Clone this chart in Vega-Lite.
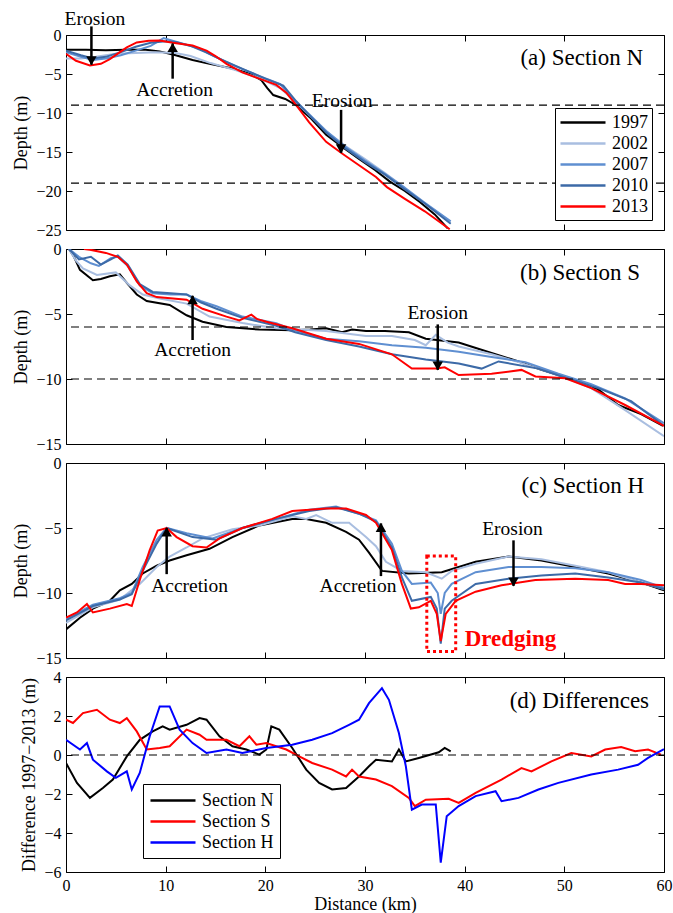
{
  "$schema": "https://vega.github.io/schema/vega-lite/v6.json",
  "padding": {"top": 8, "left": 12, "right": 5, "bottom": 0},
  "background": "white",
  "config": {
    "font": "Liberation Serif",
    "view": {"stroke": "black", "strokeWidth": 1},
    "axis": {"domain": false, "grid": false, "ticks": true, "tickColor": "black", "tickWidth": 1, "tickSize": -6, "labelFont": "Liberation Serif", "labelFontSize": 16, "labelColor": "black", "labelFlush": false, "labelOverlap": false, "labelPadding": 11, "titleFont": "Liberation Serif", "titleFontSize": 18, "titleFontWeight": "normal", "titleColor": "black", "titlePadding": 5}
  },
  "spacing": 1,
  "resolve": {"scale": {"color": "independent", "x": "independent", "y": "independent", "shape": "independent"}, "legend": {"color": "independent"}},
  "datasets": {
    "a": [
      {"year":"1997","x":0,"y":-1.9},{"year":"1997","x":2,"y":-1.9},{"year":"1997","x":4,"y":-1.95},{"year":"1997","x":6,"y":-1.9},{"year":"1997","x":8,"y":-1.9},{"year":"1997","x":9.4,"y":-2.1},{"year":"1997","x":11,"y":-2.6},{"year":"1997","x":12.7,"y":-3.2},{"year":"1997","x":14.4,"y":-3.7},{"year":"1997","x":16.7,"y":-4.3},{"year":"1997","x":18.5,"y":-5.0},{"year":"1997","x":19.6,"y":-5.8},{"year":"1997","x":20.2,"y":-6.8},{"year":"1997","x":20.8,"y":-7.7},{"year":"1997","x":22,"y":-8.2},{"year":"1997","x":23.1,"y":-9.0},{"year":"1997","x":24.5,"y":-10.6},{"year":"1997","x":26.1,"y":-12.8},{"year":"1997","x":28,"y":-14.6},{"year":"1997","x":29.4,"y":-15.9},{"year":"1997","x":31,"y":-17.3},{"year":"1997","x":32.5,"y":-18.8},{"year":"1997","x":34,"y":-20.0},{"year":"1997","x":35.5,"y":-21.4},{"year":"1997","x":37,"y":-23.0},{"year":"1997","x":38.3,"y":-24.8},
      {"year":"2002","x":0,"y":-3.0},{"year":"2002","x":1.5,"y":-3.0},{"year":"2002","x":3,"y":-2.8},{"year":"2002","x":5,"y":-2.4},{"year":"2002","x":7,"y":-2.3},{"year":"2002","x":9,"y":-2.2},{"year":"2002","x":11,"y":-2.3},{"year":"2002","x":12.5,"y":-2.7},{"year":"2002","x":14.5,"y":-3.6},{"year":"2002","x":17,"y":-4.5},{"year":"2002","x":19.5,"y":-5.6},{"year":"2002","x":21.5,"y":-6.8},{"year":"2002","x":23.1,"y":-8.7},{"year":"2002","x":24.5,"y":-10.4},{"year":"2002","x":26.1,"y":-12.3},{"year":"2002","x":28,"y":-14.2},{"year":"2002","x":30,"y":-15.9},{"year":"2002","x":32,"y":-17.7},{"year":"2002","x":34,"y":-19.6},
      {"year":"2007","x":0,"y":-2.2},{"year":"2007","x":1.5,"y":-2.8},{"year":"2007","x":2.7,"y":-3.2},{"year":"2007","x":4,"y":-3.0},{"year":"2007","x":5.5,"y":-2.6},{"year":"2007","x":7,"y":-2.0},{"year":"2007","x":8.5,"y":-1.4},{"year":"2007","x":9.8,"y":-0.4},{"year":"2007","x":10.6,"y":-0.7},{"year":"2007","x":12,"y":-1.2},{"year":"2007","x":13.5,"y":-1.8},{"year":"2007","x":15,"y":-2.8},{"year":"2007","x":17,"y":-4.0},{"year":"2007","x":19.5,"y":-5.3},{"year":"2007","x":21.5,"y":-6.3},{"year":"2007","x":23.1,"y":-8.6},{"year":"2007","x":24.5,"y":-10.3},{"year":"2007","x":26.1,"y":-12.3},{"year":"2007","x":28,"y":-14.3},{"year":"2007","x":30,"y":-16.1},{"year":"2007","x":32,"y":-17.8},{"year":"2007","x":34,"y":-19.6},{"year":"2007","x":36,"y":-21.5},{"year":"2007","x":38.6,"y":-23.9},
      {"year":"2010","x":0,"y":-2.0},{"year":"2010","x":1.5,"y":-2.6},{"year":"2010","x":2.7,"y":-3.0},{"year":"2010","x":4,"y":-2.8},{"year":"2010","x":5.5,"y":-2.2},{"year":"2010","x":7,"y":-1.5},{"year":"2010","x":8.5,"y":-1.0},{"year":"2010","x":10,"y":-0.8},{"year":"2010","x":11,"y":-0.9},{"year":"2010","x":12.5,"y":-1.4},{"year":"2010","x":14,"y":-2.2},{"year":"2010","x":16,"y":-3.4},{"year":"2010","x":18,"y":-4.5},{"year":"2010","x":20,"y":-5.6},{"year":"2010","x":21.8,"y":-6.5},{"year":"2010","x":23.1,"y":-8.5},{"year":"2010","x":24.5,"y":-10.4},{"year":"2010","x":26.1,"y":-12.5},{"year":"2010","x":28,"y":-14.5},{"year":"2010","x":30,"y":-16.3},{"year":"2010","x":32,"y":-17.9},{"year":"2010","x":34,"y":-19.8},{"year":"2010","x":36,"y":-21.6},{"year":"2010","x":38.6,"y":-24.2},
      {"year":"2013","x":0,"y":-2.4},{"year":"2013","x":1,"y":-3.3},{"year":"2013","x":2.4,"y":-3.9},{"year":"2013","x":3.5,"y":-3.7},{"year":"2013","x":4.4,"y":-3.1},{"year":"2013","x":5.3,"y":-2.3},{"year":"2013","x":6.1,"y":-1.6},{"year":"2013","x":7.1,"y":-0.95},{"year":"2013","x":8.3,"y":-0.75},{"year":"2013","x":9.4,"y":-0.7},{"year":"2013","x":10.7,"y":-1.0},{"year":"2013","x":12.7,"y":-1.35},{"year":"2013","x":14.1,"y":-2.0},{"year":"2013","x":15,"y":-2.7},{"year":"2013","x":16.1,"y":-3.7},{"year":"2013","x":17.7,"y":-4.8},{"year":"2013","x":19.4,"y":-5.6},{"year":"2013","x":21.1,"y":-6.4},{"year":"2013","x":22.1,"y":-7.4},{"year":"2013","x":23.1,"y":-9.0},{"year":"2013","x":24.4,"y":-11.2},{"year":"2013","x":26.1,"y":-13.7},{"year":"2013","x":27.7,"y":-15.2},{"year":"2013","x":29.4,"y":-16.7},{"year":"2013","x":31.1,"y":-18.2},{"year":"2013","x":32.2,"y":-19.5},{"year":"2013","x":34,"y":-21.0},{"year":"2013","x":36,"y":-22.6},{"year":"2013","x":38.5,"y":-24.9}
    ],
    "b": [
      {"year":"1997","x":0.3,"y":0},{"year":"1997","x":0.8,"y":-0.6},{"year":"1997","x":1.4,"y":-1.6},{"year":"1997","x":2.7,"y":-2.4},{"year":"1997","x":3.5,"y":-2.3},{"year":"1997","x":4.4,"y":-2.1},{"year":"1997","x":5.4,"y":-1.95},{"year":"1997","x":6.1,"y":-2.6},{"year":"1997","x":7.1,"y":-3.5},{"year":"1997","x":8.1,"y":-4.0},{"year":"1997","x":10.4,"y":-4.3},{"year":"1997","x":12.1,"y":-5.1},{"year":"1997","x":13.7,"y":-5.6},{"year":"1997","x":16.1,"y":-6.0},{"year":"1997","x":19.4,"y":-6.2},{"year":"1997","x":22.7,"y":-6.25},{"year":"1997","x":24.5,"y":-6.2},{"year":"1997","x":26.1,"y":-6.1},{"year":"1997","x":27.7,"y":-6.4},{"year":"1997","x":28.7,"y":-6.2},{"year":"1997","x":30.1,"y":-6.3},{"year":"1997","x":32,"y":-6.3},{"year":"1997","x":34.4,"y":-6.4},{"year":"1997","x":36.1,"y":-6.9},{"year":"1997","x":39.4,"y":-7.2},{"year":"1997","x":42.7,"y":-8.0},{"year":"1997","x":45.4,"y":-8.65},{"year":"1997","x":47.7,"y":-9.3},{"year":"1997","x":50.7,"y":-10.0},{"year":"1997","x":53.4,"y":-10.8},{"year":"1997","x":55.4,"y":-12.0},{"year":"1997","x":57.7,"y":-12.7},{"year":"1997","x":59.9,"y":-13.6},
      {"year":"2002","x":0.3,"y":0},{"year":"2002","x":1,"y":-0.9},{"year":"2002","x":1.7,"y":-1.5},{"year":"2002","x":3.1,"y":-2.0},{"year":"2002","x":5.0,"y":-1.8},{"year":"2002","x":6.4,"y":-2.8},{"year":"2002","x":7.7,"y":-3.5},{"year":"2002","x":9.4,"y":-3.8},{"year":"2002","x":12.1,"y":-4.2},{"year":"2002","x":14.4,"y":-5.2},{"year":"2002","x":17.7,"y":-5.7},{"year":"2002","x":21.1,"y":-6.1},{"year":"2002","x":26.1,"y":-6.3},{"year":"2002","x":30.1,"y":-6.7},{"year":"2002","x":32.7,"y":-6.7},{"year":"2002","x":35,"y":-7.0},{"year":"2002","x":36.1,"y":-7.4},{"year":"2002","x":37.1,"y":-6.6},{"year":"2002","x":38.3,"y":-7.2},{"year":"2002","x":39.4,"y":-7.5},{"year":"2002","x":42.7,"y":-8.1},{"year":"2002","x":45.4,"y":-8.7},{"year":"2002","x":49.4,"y":-9.7},{"year":"2002","x":52.7,"y":-10.7},{"year":"2002","x":56.1,"y":-12.4},{"year":"2002","x":60,"y":-14.4},
      {"year":"2007","x":0.3,"y":0},{"year":"2007","x":1.3,"y":-0.6},{"year":"2007","x":2.5,"y":-1.1},{"year":"2007","x":3.3,"y":-1.3},{"year":"2007","x":4.5,"y":-0.7},{"year":"2007","x":5.2,"y":-0.6},{"year":"2007","x":6.2,"y":-1.3},{"year":"2007","x":7.4,"y":-2.8},{"year":"2007","x":8.7,"y":-3.4},{"year":"2007","x":10.5,"y":-3.5},{"year":"2007","x":12.1,"y":-3.5},{"year":"2007","x":13.5,"y":-4.0},{"year":"2007","x":15.1,"y":-4.4},{"year":"2007","x":17.7,"y":-5.2},{"year":"2007","x":21.1,"y":-5.7},{"year":"2007","x":22.7,"y":-6.2},{"year":"2007","x":26.1,"y":-6.9},{"year":"2007","x":29.4,"y":-7.1},{"year":"2007","x":32.7,"y":-7.4},{"year":"2007","x":36.1,"y":-7.6},{"year":"2007","x":39.4,"y":-7.9},{"year":"2007","x":42.7,"y":-8.3},{"year":"2007","x":46.1,"y":-8.7},{"year":"2007","x":49.4,"y":-9.6},{"year":"2007","x":52.7,"y":-10.4},{"year":"2007","x":56.1,"y":-11.5},{"year":"2007","x":60,"y":-13.4},
      {"year":"2010","x":0.3,"y":0},{"year":"2010","x":1.3,"y":-0.8},{"year":"2010","x":2.5,"y":-0.6},{"year":"2010","x":3.5,"y":-1.2},{"year":"2010","x":4.5,"y":-0.8},{"year":"2010","x":5.2,"y":-0.5},{"year":"2010","x":6.2,"y":-1.2},{"year":"2010","x":7.4,"y":-2.7},{"year":"2010","x":8.7,"y":-3.3},{"year":"2010","x":10.5,"y":-3.4},{"year":"2010","x":12.1,"y":-3.5},{"year":"2010","x":13.5,"y":-4.1},{"year":"2010","x":15.1,"y":-4.6},{"year":"2010","x":17.7,"y":-5.3},{"year":"2010","x":21.1,"y":-5.9},{"year":"2010","x":23,"y":-6.4},{"year":"2010","x":26.1,"y":-7.0},{"year":"2010","x":29.4,"y":-7.5},{"year":"2010","x":32.7,"y":-8.1},{"year":"2010","x":36.1,"y":-8.5},{"year":"2010","x":39.4,"y":-8.8},{"year":"2010","x":41.7,"y":-9.2},{"year":"2010","x":43.4,"y":-8.65},{"year":"2010","x":47.4,"y":-9.2},{"year":"2010","x":50.1,"y":-9.9},{"year":"2010","x":53.4,"y":-10.7},{"year":"2010","x":56.7,"y":-11.7},{"year":"2010","x":60,"y":-13.6},
      {"year":"2013","x":1.8,"y":0},{"year":"2013","x":2.4,"y":-0.05},{"year":"2013","x":4,"y":-0.3},{"year":"2013","x":5.2,"y":-0.6},{"year":"2013","x":6.1,"y":-1.2},{"year":"2013","x":7.1,"y":-2.5},{"year":"2013","x":8.1,"y":-3.4},{"year":"2013","x":9.1,"y":-3.7},{"year":"2013","x":12.1,"y":-3.9},{"year":"2013","x":13.7,"y":-4.6},{"year":"2013","x":16.1,"y":-5.2},{"year":"2013","x":17.4,"y":-5.5},{"year":"2013","x":18.6,"y":-5.05},{"year":"2013","x":19.2,"y":-5.4},{"year":"2013","x":20.1,"y":-5.6},{"year":"2013","x":22.7,"y":-6.1},{"year":"2013","x":26.1,"y":-6.9},{"year":"2013","x":29.4,"y":-7.3},{"year":"2013","x":32.7,"y":-8.1},{"year":"2013","x":34.7,"y":-9.2},{"year":"2013","x":37.2,"y":-9.2},{"year":"2013","x":38,"y":-9.1},{"year":"2013","x":39.4,"y":-9.7},{"year":"2013","x":42.7,"y":-9.6},{"year":"2013","x":45.7,"y":-9.3},{"year":"2013","x":47.1,"y":-9.8},{"year":"2013","x":50.1,"y":-9.95},{"year":"2013","x":52.7,"y":-10.7},{"year":"2013","x":56.1,"y":-12.0},{"year":"2013","x":60,"y":-13.6}
    ],
    "c": [
      {"year":"1997","x":0,"y":-12.8},{"year":"1997","x":1.4,"y":-11.9},{"year":"1997","x":2.7,"y":-11.2},{"year":"1997","x":4.4,"y":-10.6},{"year":"1997","x":5.4,"y":-9.8},{"year":"1997","x":6.6,"y":-9.3},{"year":"1997","x":7.7,"y":-8.5},{"year":"1997","x":9.1,"y":-7.9},{"year":"1997","x":10.4,"y":-7.5},{"year":"1997","x":12.1,"y":-7.1},{"year":"1997","x":14.4,"y":-6.6},{"year":"1997","x":16.7,"y":-5.7},{"year":"1997","x":19.4,"y":-4.8},{"year":"1997","x":22.7,"y":-4.3},{"year":"1997","x":24.1,"y":-4.3},{"year":"1997","x":26.1,"y":-4.6},{"year":"1997","x":28.1,"y":-5.3},{"year":"1997","x":29.4,"y":-5.9},{"year":"1997","x":30.4,"y":-6.9},{"year":"1997","x":31.7,"y":-8.3},{"year":"1997","x":34.4,"y":-8.5},{"year":"1997","x":37.7,"y":-8.4},{"year":"1997","x":41.1,"y":-7.6},{"year":"1997","x":44.4,"y":-7.2},{"year":"1997","x":47.7,"y":-7.5},{"year":"1997","x":51.1,"y":-8.0},{"year":"1997","x":54.4,"y":-8.5},{"year":"1997","x":57.7,"y":-9.2},{"year":"1997","x":60,"y":-9.8},
      {"year":"2002","x":0,"y":-12.3},{"year":"2002","x":2.7,"y":-11.1},{"year":"2002","x":5.4,"y":-10.5},{"year":"2002","x":7.4,"y":-9.3},{"year":"2002","x":9.1,"y":-8.0},{"year":"2002","x":10.4,"y":-7.2},{"year":"2002","x":12.1,"y":-6.5},{"year":"2002","x":13.7,"y":-5.8},{"year":"2002","x":16.7,"y":-5.1},{"year":"2002","x":19.4,"y":-4.8},{"year":"2002","x":22.7,"y":-4.1},{"year":"2002","x":24.1,"y":-4.3},{"year":"2002","x":25.1,"y":-4.0},{"year":"2002","x":26.7,"y":-4.6},{"year":"2002","x":28.4,"y":-4.6},{"year":"2002","x":30.1,"y":-5.7},{"year":"2002","x":31.1,"y":-6.4},{"year":"2002","x":32.1,"y":-7.6},{"year":"2002","x":33.7,"y":-8.3},{"year":"2002","x":36.1,"y":-8.4},{"year":"2002","x":37.7,"y":-8.9},{"year":"2002","x":38.7,"y":-8.3},{"year":"2002","x":41.1,"y":-7.75},{"year":"2002","x":44.4,"y":-7.2},{"year":"2002","x":47.7,"y":-7.4},{"year":"2002","x":51.1,"y":-7.9},{"year":"2002","x":54.4,"y":-8.4},{"year":"2002","x":57.7,"y":-9.2},{"year":"2002","x":60,"y":-9.7},
      {"year":"2007","x":0,"y":-12.0},{"year":"2007","x":2.7,"y":-10.9},{"year":"2007","x":5.4,"y":-10.4},{"year":"2007","x":6.6,"y":-10.0},{"year":"2007","x":7.7,"y":-8.0},{"year":"2007","x":9.1,"y":-5.9},{"year":"2007","x":10.1,"y":-5.0},{"year":"2007","x":12.1,"y":-5.4},{"year":"2007","x":14.7,"y":-5.8},{"year":"2007","x":17.7,"y":-5.0},{"year":"2007","x":21.1,"y":-4.3},{"year":"2007","x":24.4,"y":-3.6},{"year":"2007","x":27.1,"y":-3.35},{"year":"2007","x":29.4,"y":-3.9},{"year":"2007","x":31.1,"y":-4.4},{"year":"2007","x":32.7,"y":-6.2},{"year":"2007","x":33.7,"y":-8.3},{"year":"2007","x":34.7,"y":-9.3},{"year":"2007","x":36.6,"y":-9.2},{"year":"2007","x":37.3,"y":-10.0},{"year":"2007","x":37.6,"y":-11.6},{"year":"2007","x":38.0,"y":-10.0},{"year":"2007","x":38.7,"y":-9.3},{"year":"2007","x":41.1,"y":-8.4},{"year":"2007","x":44.4,"y":-8.0},{"year":"2007","x":47.7,"y":-8.0},{"year":"2007","x":51.1,"y":-8.1},{"year":"2007","x":54.4,"y":-8.4},{"year":"2007","x":57.7,"y":-9.0},{"year":"2007","x":60,"y":-9.6},
      {"year":"2010","x":0,"y":-12.1},{"year":"2010","x":2.7,"y":-11.0},{"year":"2010","x":5.4,"y":-10.5},{"year":"2010","x":6.6,"y":-10.1},{"year":"2010","x":7.7,"y":-8.3},{"year":"2010","x":9.1,"y":-6.2},{"year":"2010","x":10.1,"y":-5.0},{"year":"2010","x":12.7,"y":-5.7},{"year":"2010","x":15.1,"y":-5.9},{"year":"2010","x":17.7,"y":-5.0},{"year":"2010","x":21.1,"y":-4.3},{"year":"2010","x":24.4,"y":-3.7},{"year":"2010","x":27.1,"y":-3.4},{"year":"2010","x":29.4,"y":-3.9},{"year":"2010","x":31.1,"y":-4.5},{"year":"2010","x":32.7,"y":-6.5},{"year":"2010","x":33.7,"y":-8.8},{"year":"2010","x":34.7,"y":-10.6},{"year":"2010","x":36.6,"y":-10.3},{"year":"2010","x":37.2,"y":-11.2},{"year":"2010","x":37.6,"y":-13.9},{"year":"2010","x":38.0,"y":-11.2},{"year":"2010","x":38.7,"y":-10.6},{"year":"2010","x":41.1,"y":-9.3},{"year":"2010","x":44.4,"y":-8.9},{"year":"2010","x":47.7,"y":-8.65},{"year":"2010","x":51.1,"y":-8.5},{"year":"2010","x":54.4,"y":-8.8},{"year":"2010","x":57.7,"y":-9.2},{"year":"2010","x":60,"y":-9.7},
      {"year":"2013","x":0,"y":-11.9},{"year":"2013","x":1.1,"y":-11.5},{"year":"2013","x":2.1,"y":-10.85},{"year":"2013","x":2.7,"y":-11.5},{"year":"2013","x":4.4,"y":-11.2},{"year":"2013","x":6.1,"y":-10.85},{"year":"2013","x":6.6,"y":-11.0},{"year":"2013","x":7.4,"y":-9.0},{"year":"2013","x":8.4,"y":-6.7},{"year":"2013","x":9.2,"y":-5.2},{"year":"2013","x":10.1,"y":-5.0},{"year":"2013","x":11.1,"y":-5.7},{"year":"2013","x":12.7,"y":-6.4},{"year":"2013","x":14.1,"y":-6.5},{"year":"2013","x":15.4,"y":-5.8},{"year":"2013","x":17.7,"y":-5.0},{"year":"2013","x":20.7,"y":-4.3},{"year":"2013","x":22.7,"y":-3.7},{"year":"2013","x":26.1,"y":-3.5},{"year":"2013","x":28.1,"y":-3.5},{"year":"2013","x":30.1,"y":-4.0},{"year":"2013","x":31.1,"y":-4.6},{"year":"2013","x":32.7,"y":-6.7},{"year":"2013","x":33.7,"y":-9.3},{"year":"2013","x":34.6,"y":-11.2},{"year":"2013","x":35.4,"y":-11.1},{"year":"2013","x":36.6,"y":-10.6},{"year":"2013","x":37.2,"y":-11.6},{"year":"2013","x":37.6,"y":-13.7},{"year":"2013","x":38.1,"y":-11.6},{"year":"2013","x":39.1,"y":-10.6},{"year":"2013","x":41.1,"y":-9.9},{"year":"2013","x":43.7,"y":-9.4},{"year":"2013","x":47.1,"y":-9.0},{"year":"2013","x":51.1,"y":-8.9},{"year":"2013","x":54.4,"y":-9.0},{"year":"2013","x":56.1,"y":-9.3},{"year":"2013","x":57.7,"y":-9.3},{"year":"2013","x":60,"y":-9.4}
    ],
    "d": [
      {"section":"Section N","x":0,"y":-0.41},{"section":"Section N","x":1.1,"y":-1.43},{"section":"Section N","x":2.4,"y":-2.2},{"section":"Section N","x":3.7,"y":-1.69},{"section":"Section N","x":4.7,"y":-1.26},{"section":"Section N","x":6.1,"y":-0.07},{"section":"Section N","x":7.4,"y":0.78},{"section":"Section N","x":8.7,"y":1.21},{"section":"Section N","x":9.7,"y":1.47},{"section":"Section N","x":10.4,"y":1.3},{"section":"Section N","x":12.1,"y":1.55},{"section":"Section N","x":13.4,"y":1.89},{"section":"Section N","x":14.1,"y":1.81},{"section":"Section N","x":15.4,"y":0.96},{"section":"Section N","x":16.7,"y":0.45},{"section":"Section N","x":18.1,"y":0.28},{"section":"Section N","x":19.4,"y":0.02},{"section":"Section N","x":20.1,"y":0.28},{"section":"Section N","x":20.6,"y":1.47},{"section":"Section N","x":21.4,"y":1.3},{"section":"Section N","x":22.7,"y":0.36},{"section":"Section N","x":24.1,"y":-0.75},{"section":"Section N","x":25.4,"y":-1.43},{"section":"Section N","x":26.7,"y":-1.77},{"section":"Section N","x":28.1,"y":-1.69},{"section":"Section N","x":29.4,"y":-1.1},{"section":"Section N","x":30.4,"y":-0.58},{"section":"Section N","x":31.1,"y":-0.24},{"section":"Section N","x":32.7,"y":-0.33},{"section":"Section N","x":33.4,"y":0.28},{"section":"Section N","x":34.1,"y":-0.33},{"section":"Section N","x":35.4,"y":-0.15},{"section":"Section N","x":37.4,"y":0.14},{"section":"Section N","x":38,"y":0.36},{"section":"Section N","x":38.6,"y":0.19},
      {"section":"Section S","x":0,"y":1.81},{"section":"Section S","x":0.7,"y":1.64},{"section":"Section S","x":1.7,"y":2.15},{"section":"Section S","x":3.1,"y":2.32},{"section":"Section S","x":4.4,"y":1.81},{"section":"Section S","x":5.4,"y":1.64},{"section":"Section S","x":6.1,"y":1.89},{"section":"Section S","x":7.1,"y":1.21},{"section":"Section S","x":8.1,"y":0.28},{"section":"Section S","x":9.4,"y":0.36},{"section":"Section S","x":10.4,"y":0.45},{"section":"Section S","x":12.1,"y":1.3},{"section":"Section S","x":13.4,"y":1.04},{"section":"Section S","x":14.1,"y":0.78},{"section":"Section S","x":16.1,"y":0.78},{"section":"Section S","x":17.4,"y":0.45},{"section":"Section S","x":18.4,"y":0.96},{"section":"Section S","x":19.1,"y":0.53},{"section":"Section S","x":20.1,"y":0.61},{"section":"Section S","x":22.1,"y":0.28},{"section":"Section S","x":23.4,"y":-0.07},{"section":"Section S","x":24.7,"y":-0.41},{"section":"Section S","x":26.7,"y":-0.75},{"section":"Section S","x":28.1,"y":-1.1},{"section":"Section S","x":28.7,"y":-0.75},{"section":"Section S","x":29.4,"y":-1.1},{"section":"Section S","x":31.1,"y":-1.26},{"section":"Section S","x":32.7,"y":-1.6},{"section":"Section S","x":34.4,"y":-2.2},{"section":"Section S","x":35.0,"y":-2.62},{"section":"Section S","x":36.1,"y":-2.29},{"section":"Section S","x":38.4,"y":-2.25},{"section":"Section S","x":39.4,"y":-2.46},{"section":"Section S","x":41.1,"y":-1.94},{"section":"Section S","x":43.7,"y":-1.26},{"section":"Section S","x":45.7,"y":-0.67},{"section":"Section S","x":46.7,"y":-0.84},{"section":"Section S","x":48.7,"y":-0.33},{"section":"Section S","x":50.7,"y":0.1},{"section":"Section S","x":52.7,"y":-0.07},{"section":"Section S","x":54.1,"y":0.28},{"section":"Section S","x":55.7,"y":0.41},{"section":"Section S","x":57.1,"y":0.19},{"section":"Section S","x":58.4,"y":0.28},{"section":"Section S","x":59.7,"y":0.02},
      {"section":"Section H","x":0,"y":0.78},{"section":"Section H","x":1.4,"y":0.28},{"section":"Section H","x":2.1,"y":0.61},{"section":"Section H","x":2.7,"y":-0.24},{"section":"Section H","x":4.1,"y":-0.84},{"section":"Section H","x":5.0,"y":-1.17},{"section":"Section H","x":6.1,"y":-0.84},{"section":"Section H","x":6.6,"y":-1.77},{"section":"Section H","x":7.4,"y":-0.92},{"section":"Section H","x":8.4,"y":0.96},{"section":"Section H","x":9.4,"y":2.49},{"section":"Section H","x":10.4,"y":2.49},{"section":"Section H","x":11.4,"y":1.3},{"section":"Section H","x":12.7,"y":0.61},{"section":"Section H","x":14.1,"y":0.1},{"section":"Section H","x":16.1,"y":0.28},{"section":"Section H","x":17.7,"y":0.1},{"section":"Section H","x":20.1,"y":0.36},{"section":"Section H","x":22.7,"y":0.53},{"section":"Section H","x":24.7,"y":0.78},{"section":"Section H","x":26.7,"y":1.12},{"section":"Section H","x":28.4,"y":1.55},{"section":"Section H","x":29.4,"y":1.81},{"section":"Section H","x":30.4,"y":2.66},{"section":"Section H","x":31.7,"y":3.43},{"section":"Section H","x":32.4,"y":2.83},{"section":"Section H","x":33.4,"y":1.13},{"section":"Section H","x":34.1,"y":-0.58},{"section":"Section H","x":34.7,"y":-2.8},{"section":"Section H","x":35.7,"y":-2.54},{"section":"Section H","x":37.1,"y":-2.54},{"section":"Section H","x":37.6,"y":-5.52},{"section":"Section H","x":38.2,"y":-3.14},{"section":"Section H","x":39.4,"y":-2.62},{"section":"Section H","x":41.1,"y":-2.11},{"section":"Section H","x":43.1,"y":-1.86},{"section":"Section H","x":43.7,"y":-2.37},{"section":"Section H","x":45.4,"y":-2.2},{"section":"Section H","x":47.4,"y":-1.77},{"section":"Section H","x":49.4,"y":-1.43},{"section":"Section H","x":52.7,"y":-1.0},{"section":"Section H","x":55.4,"y":-0.75},{"section":"Section H","x":57.4,"y":-0.5},{"section":"Section H","x":58.4,"y":-0.15},{"section":"Section H","x":60,"y":0.3}
    ]
  },
  "vconcat": [
    {
      "width": 598, "height": 195,
      "resolve": {"axis": {"x": "independent", "y": "independent"}},
      "layer": [
        {"data": {"name": "a"}, "mark": {"type": "line", "strokeWidth": 2, "clip": true},
         "encoding": {
           "x": {"field": "x", "type": "quantitative", "scale": {"domain": [0, 60], "nice": false, "zero": false}, "axis": {"orient": "bottom", "values": [0,10,20,30,40,50,60], "labels": false, "title": null}},
           "y": {"field": "y", "type": "quantitative", "scale": {"domain": [-25, 0], "nice": false, "zero": false}, "axis": {"orient": "left", "values": [0,-5,-10,-15,-20,-25], "title": "Depth (m)"}},
           "color": {"field": "year", "type": "nominal", "scale": {"domain": ["1997","2002","2007","2010","2013"], "range": ["#000000","#a9bee0","#5f8fd1","#3c6aa7","#ff0000"]},
             "legend": {"orient": "none", "legendX": 489, "legendY": 73, "title": null, "direction": "vertical", "strokeColor": "black", "fillColor": "white", "padding": 4, "symbolType": "M-1,0H4", "symbolSize": 324, "symbolStrokeWidth": 2.5, "labelFont": "Liberation Serif", "labelFontSize": 18, "labelColor": "black", "rowPadding": 1, "labelOffset": 32}}
         }},
        {"data": {"values": [{"y": -9}, {"y": -19}]}, "mark": {"type": "rule", "strokeDash": [8, 5], "strokeWidth": 1.2, "color": "black"},
         "encoding": {"y": {"field": "y", "type": "quantitative", "axis": null}}},
        {"data": {"values": [{"x": 2.55, "y": 1.1, "y2": -3.8, "head": -3.3, "dir": "down"}, {"x": 10.7, "y": -5.6, "y2": -1.1, "head": -1.6, "dir": "up"}, {"x": 27.6, "y": -9.6, "y2": -15.1, "head": -14.6, "dir": "down"}]},
         "layer": [
           {"mark": {"type": "rule", "strokeWidth": 2.5, "color": "black"},
            "encoding": {"x": {"field": "x", "type": "quantitative", "axis": null}, "y": {"field": "y", "type": "quantitative", "axis": null}, "y2": {"field": "y2"}}},
           {"mark": {"type": "point", "filled": true, "color": "black", "size": 110, "opacity": 1},
            "encoding": {"x": {"field": "x", "type": "quantitative", "axis": null}, "y": {"field": "head", "type": "quantitative", "axis": null}, "shape": {"field": "dir", "type": "nominal", "scale": {"domain": ["down", "up"], "range": ["triangle-down", "triangle-up"]}, "legend": null}}}
         ]},
        {"data": {"values": [{"x": 2.9, "y": 2.1, "label": "Erosion"}, {"x": 10.9, "y": -7.0, "label": "Accretion"}, {"x": 27.7, "y": -8.5, "label": "Erosion"}]},
         "mark": {"type": "text", "font": "Liberation Serif", "fontSize": 19.5, "align": "center", "baseline": "middle", "color": "black"},
         "encoding": {"x": {"field": "x", "type": "quantitative", "axis": null}, "y": {"field": "y", "type": "quantitative", "axis": null}, "text": {"field": "label"}}},
        {"data": {"values": [{"x": 57.9, "y": -2.9, "label": "(a) Section N"}]},
         "mark": {"type": "text", "font": "Liberation Serif", "fontSize": 23, "align": "right", "baseline": "middle", "color": "black"},
         "encoding": {"x": {"field": "x", "type": "quantitative", "axis": null}, "y": {"field": "y", "type": "quantitative", "axis": null}, "text": {"field": "label"}}},
        {"data": {"values": [{"x": 0, "y": 0}]}, "mark": {"type": "point", "opacity": 0},
         "encoding": {"x": {"field": "x", "type": "quantitative", "axis": {"orient": "top", "values": [0,10,20,30,40,50,60], "labels": false, "title": null}},
                      "y": {"field": "y", "type": "quantitative", "axis": {"orient": "right", "values": [0,-5,-10,-15,-20,-25], "labels": false, "title": null}}}}
      ]
    },
    {
      "width": 598, "height": 195,
      "resolve": {"axis": {"x": "independent", "y": "independent"}},
      "layer": [
        {"data": {"name": "b"}, "mark": {"type": "line", "strokeWidth": 2, "clip": true},
         "encoding": {
           "x": {"field": "x", "type": "quantitative", "scale": {"domain": [0, 60], "nice": false, "zero": false}, "axis": {"orient": "bottom", "values": [0,10,20,30,40,50,60], "labels": false, "title": null}},
           "y": {"field": "y", "type": "quantitative", "scale": {"domain": [-15, 0], "nice": false, "zero": false}, "axis": {"orient": "left", "values": [0,-5,-10,-15], "title": "Depth (m)"}},
           "color": {"field": "year", "type": "nominal", "scale": {"domain": ["1997","2002","2007","2010","2013"], "range": ["#000000","#a9bee0","#5f8fd1","#3c6aa7","#ff0000"]}, "legend": null}
         }},
        {"data": {"values": [{"y": -6}, {"y": -10}]}, "mark": {"type": "rule", "strokeDash": [8, 5], "strokeWidth": 1.2, "color": "black"},
         "encoding": {"y": {"field": "y", "type": "quantitative", "axis": null}}},
        {"data": {"values": [{"x": 12.7, "y": -7.0, "y2": -3.6, "head": -3.9, "dir": "up"}, {"x": 37.3, "y": -5.8, "y2": -9.3, "head": -9.0, "dir": "down"}]},
         "layer": [
           {"mark": {"type": "rule", "strokeWidth": 2.5, "color": "black"},
            "encoding": {"x": {"field": "x", "type": "quantitative", "axis": null}, "y": {"field": "y", "type": "quantitative", "axis": null}, "y2": {"field": "y2"}}},
           {"mark": {"type": "point", "filled": true, "color": "black", "size": 110, "opacity": 1},
            "encoding": {"x": {"field": "x", "type": "quantitative", "axis": null}, "y": {"field": "head", "type": "quantitative", "axis": null}, "shape": {"field": "dir", "type": "nominal", "scale": {"domain": ["down", "up"], "range": ["triangle-down", "triangle-up"]}, "legend": null}}}
         ]},
        {"data": {"values": [{"x": 12.7, "y": -7.8, "label": "Accretion"}, {"x": 37.3, "y": -4.95, "label": "Erosion"}]},
         "mark": {"type": "text", "font": "Liberation Serif", "fontSize": 19.5, "align": "center", "baseline": "middle", "color": "black"},
         "encoding": {"x": {"field": "x", "type": "quantitative", "axis": null}, "y": {"field": "y", "type": "quantitative", "axis": null}, "text": {"field": "label"}}},
        {"data": {"values": [{"x": 57.6, "y": -1.87, "label": "(b) Section S"}]},
         "mark": {"type": "text", "font": "Liberation Serif", "fontSize": 23, "align": "right", "baseline": "middle", "color": "black"},
         "encoding": {"x": {"field": "x", "type": "quantitative", "axis": null}, "y": {"field": "y", "type": "quantitative", "axis": null}, "text": {"field": "label"}}},
        {"data": {"values": [{"x": 0, "y": 0}]}, "mark": {"type": "point", "opacity": 0},
         "encoding": {"x": {"field": "x", "type": "quantitative", "axis": {"orient": "top", "values": [0,10,20,30,40,50,60], "labels": false, "title": null}},
                      "y": {"field": "y", "type": "quantitative", "axis": {"orient": "right", "values": [0,-5,-10,-15], "labels": false, "title": null}}}}
      ]
    },
    {
      "width": 598, "height": 195,
      "resolve": {"axis": {"x": "independent", "y": "independent"}},
      "layer": [
        {"data": {"name": "c"}, "mark": {"type": "line", "strokeWidth": 2, "clip": true},
         "encoding": {
           "x": {"field": "x", "type": "quantitative", "scale": {"domain": [0, 60], "nice": false, "zero": false}, "axis": {"orient": "bottom", "values": [0,10,20,30,40,50,60], "labels": false, "title": null}},
           "y": {"field": "y", "type": "quantitative", "scale": {"domain": [-15, 0], "nice": false, "zero": false}, "axis": {"orient": "left", "values": [0,-5,-10,-15], "title": "Depth (m)"}},
           "color": {"field": "year", "type": "nominal", "scale": {"domain": ["1997","2002","2007","2010","2013"], "range": ["#000000","#a9bee0","#5f8fd1","#3c6aa7","#ff0000"]}, "legend": null}
         }},
        {"data": {"values": [{"x": 36.2, "x2": 39.1, "y": -7.16, "y2": -14.5}]},
         "mark": {"type": "rect", "fill": null, "fillOpacity": 0, "stroke": "#ff0000", "strokeWidth": 3, "strokeDash": [3, 3]},
         "encoding": {"x": {"field": "x", "type": "quantitative", "axis": null}, "x2": {"field": "x2"}, "y": {"field": "y", "type": "quantitative", "axis": null}, "y2": {"field": "y2"}}},
        {"data": {"values": [{"x": 10.1, "y": -8.55, "y2": -5.0, "head": -5.3, "dir": "up"}, {"x": 31.6, "y": -8.7, "y2": -4.65, "head": -4.95, "dir": "up"}, {"x": 44.9, "y": -5.95, "y2": -9.45, "head": -9.15, "dir": "down"}]},
         "layer": [
           {"mark": {"type": "rule", "strokeWidth": 2.5, "color": "black"},
            "encoding": {"x": {"field": "x", "type": "quantitative", "axis": null}, "y": {"field": "y", "type": "quantitative", "axis": null}, "y2": {"field": "y2"}}},
           {"mark": {"type": "point", "filled": true, "color": "black", "size": 110, "opacity": 1},
            "encoding": {"x": {"field": "x", "type": "quantitative", "axis": null}, "y": {"field": "head", "type": "quantitative", "axis": null}, "shape": {"field": "dir", "type": "nominal", "scale": {"domain": ["down", "up"], "range": ["triangle-down", "triangle-up"]}, "legend": null}}}
         ]},
        {"data": {"values": [{"x": 12.4, "y": -9.45, "label": "Accretion"}, {"x": 29.3, "y": -9.45, "label": "Accretion"}, {"x": 44.8, "y": -5.1, "label": "Erosion"}]},
         "mark": {"type": "text", "font": "Liberation Serif", "fontSize": 19.5, "align": "center", "baseline": "middle", "color": "black"},
         "encoding": {"x": {"field": "x", "type": "quantitative", "axis": null}, "y": {"field": "y", "type": "quantitative", "axis": null}, "text": {"field": "label"}}},
        {"data": {"values": [{"x": 40.0, "y": -13.57, "label": "Dredging"}]},
         "mark": {"type": "text", "font": "Liberation Serif", "fontSize": 23, "fontWeight": "bold", "align": "left", "baseline": "middle", "color": "#ff0000"},
         "encoding": {"x": {"field": "x", "type": "quantitative", "axis": null}, "y": {"field": "y", "type": "quantitative", "axis": null}, "text": {"field": "label"}}},
        {"data": {"values": [{"x": 58, "y": -1.75, "label": "(c) Section H"}]},
         "mark": {"type": "text", "font": "Liberation Serif", "fontSize": 23, "align": "right", "baseline": "middle", "color": "black"},
         "encoding": {"x": {"field": "x", "type": "quantitative", "axis": null}, "y": {"field": "y", "type": "quantitative", "axis": null}, "text": {"field": "label"}}},
        {"data": {"values": [{"x": 0, "y": 0}]}, "mark": {"type": "point", "opacity": 0},
         "encoding": {"x": {"field": "x", "type": "quantitative", "axis": {"orient": "top", "values": [0,10,20,30,40,50,60], "labels": false, "title": null}},
                      "y": {"field": "y", "type": "quantitative", "axis": {"orient": "right", "values": [0,-5,-10,-15], "labels": false, "title": null}}}}
      ]
    },
    {
      "width": 598, "height": 195,
      "resolve": {"axis": {"x": "independent", "y": "independent"}},
      "layer": [
        {"data": {"name": "d"}, "mark": {"type": "line", "strokeWidth": 2, "clip": true},
         "encoding": {
           "x": {"field": "x", "type": "quantitative", "scale": {"domain": [0, 60], "nice": false, "zero": false}, "axis": {"orient": "bottom", "values": [0,10,20,30,40,50,60], "title": "Distance (km)", "titlePadding": 2}},
           "y": {"field": "y", "type": "quantitative", "scale": {"domain": [-6, 4], "nice": false, "zero": false}, "axis": {"orient": "left", "values": [4,2,0,-2,-4,-6], "title": "Difference 1997−2013 (m)"}},
           "color": {"field": "section", "type": "nominal", "scale": {"domain": ["Section N","Section S","Section H"], "range": ["#000000","#ff0000","#0000ff"]},
             "legend": {"orient": "none", "legendX": 77, "legendY": 107, "title": null, "direction": "vertical", "strokeColor": "black", "fillColor": "white", "padding": 6, "symbolType": "M-1,0H4", "symbolSize": 324, "symbolStrokeWidth": 2.5, "labelFont": "Liberation Serif", "labelFontSize": 18, "labelColor": "black", "rowPadding": 1, "labelOffset": 32}}
         }},
        {"data": {"values": [{"y": 0}]}, "mark": {"type": "rule", "strokeDash": [8, 5], "strokeWidth": 1.2, "color": "black"},
         "encoding": {"y": {"field": "y", "type": "quantitative", "axis": null}}},
        {"data": {"values": [{"x": 58.5, "y": 2.75, "label": "(d) Differences"}]},
         "mark": {"type": "text", "font": "Liberation Serif", "fontSize": 23, "align": "right", "baseline": "middle", "color": "black"},
         "encoding": {"x": {"field": "x", "type": "quantitative", "axis": null}, "y": {"field": "y", "type": "quantitative", "axis": null}, "text": {"field": "label"}}},
        {"data": {"values": [{"x": 0, "y": 0}]}, "mark": {"type": "point", "opacity": 0},
         "encoding": {"x": {"field": "x", "type": "quantitative", "axis": {"orient": "top", "values": [0,10,20,30,40,50,60], "labels": false, "title": null}},
                      "y": {"field": "y", "type": "quantitative", "axis": {"orient": "right", "values": [4,2,0,-2,-4,-6], "labels": false, "title": null}}}}
      ]
    }
  ]
}
